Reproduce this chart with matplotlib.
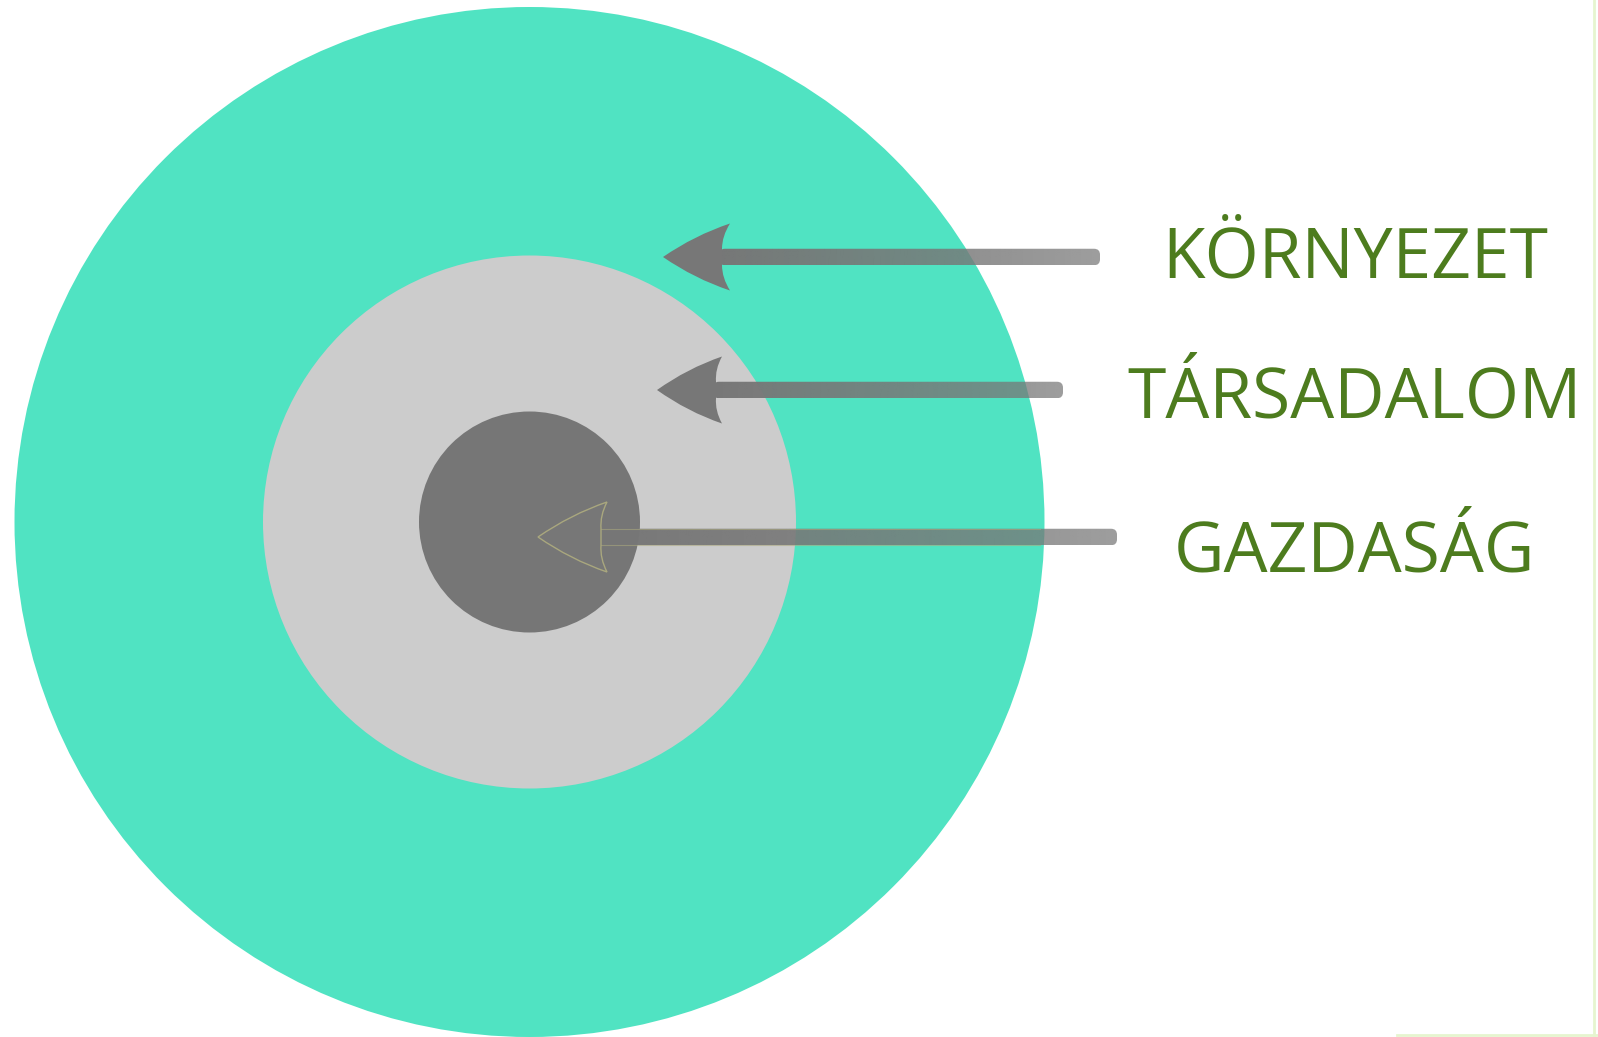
import numpy as np
import matplotlib
matplotlib.use("Agg")
import matplotlib.pyplot as plt
from matplotlib.patches import Circle, PathPatch, FancyBboxPatch
from matplotlib.path import Path

# ---- data ----
labels = ["KÖRNYEZET", "TÁRSADALOM", "GAZDASÁG"]
radii = [515, 266.5, 110.5]
ring_colors = ["#50E3C2", "#CCCCCC", "#767676"]

W, H = 1598, 1037
fig = plt.figure(figsize=(W / 100, H / 100), dpi=100)
ax = fig.add_axes([0, 0, 1, 1])
ax.set_xlim(0, W)
ax.set_ylim(H, 0)
ax.set_aspect("equal")
ax.axis("off")

cx, cy = 529.5, 522
for r, c in zip(radii, ring_colors):
    ax.add_patch(Circle((cx, cy), r, facecolor=c, edgecolor="none", zorder=1))

# arrows: (tip_x, y, barb_x, notch_x, half_height, end_x)
arrows = [
    (663, 257, 730, 722, 33.5, 1100),
    (657, 390, 722, 716, 33.5, 1063),
    (538, 537, 607, 601, 35, 1117),
]
sw = 16.5
gray = np.array([0x77, 0x77, 0x77]) / 255.0


def head_path(tx, y, bx, nx, hh):
    mx_t = (tx + bx) / 2
    ny = sw / 2
    mbx = (bx + nx) / 2
    verts = [
        (tx, y),
        (mx_t - 2, y - hh / 2 - 5), (bx, y - hh),
        (mbx - 4, y - (hh + ny) / 2), (nx, y - ny),
        (nx, y + ny),
        (mbx - 4, y + (hh + ny) / 2), (bx, y + hh),
        (mx_t - 2, y + hh / 2 + 5), (tx, y),
        (tx, y),
    ]
    codes = [Path.MOVETO,
             Path.CURVE3, Path.CURVE3,
             Path.CURVE3, Path.CURVE3,
             Path.LINETO,
             Path.CURVE3, Path.CURVE3,
             Path.CURVE3, Path.CURVE3,
             Path.CLOSEPOLY]
    return Path(verts, codes)


for i, (tx, y, bx, nx, hh, ex) in enumerate(arrows):
    x0 = nx - 3
    n = 256
    grad = np.zeros((1, n, 4))
    grad[..., :3] = gray
    grad[..., 3] = np.linspace(1.0, 0.72, n)
    im = ax.imshow(grad, extent=(x0, ex, y + sw / 2, y - sw / 2),
                   aspect="auto", zorder=3, interpolation="bilinear")
    clip = FancyBboxPatch((x0, y - sw / 2), ex - x0, sw,
                          boxstyle="round,pad=0,rounding_size=6",
                          transform=ax.transData, facecolor="none", edgecolor="none")
    ax.add_patch(clip)
    im.set_clip_path(clip)
    if i < 2:
        ax.add_patch(PathPatch(head_path(tx, y, bx, nx, hh), facecolor="#777777",
                               edgecolor="none", zorder=4))
    else:
        ax.add_patch(PathPatch(head_path(tx, y, bx, nx, hh), facecolor="#777777",
                               edgecolor="#A9A77E", linewidth=1.0, zorder=4))
        for yy in (y - sw / 2, y + sw / 2):
            ax.plot([nx, 1040], [yy, yy], color="#A9A77E", lw=0.8, zorder=5, alpha=0.6)

# labels
text_x = 1355
baselines = [277, 418, 571]
for lab, yb in zip(labels, baselines):
    ax.text(text_x, yb, lab, ha="center", va="baseline", fontsize=50,
            family=["Open Sans", "DejaVu Sans"], color="#4D7C1E", zorder=6)

# faint frame on right/bottom
ax.plot([1594, 1594], [0, H], color="#E6F5CF", lw=2, zorder=7)
ax.plot([1397, W], [1035, 1035], color="#E6F5CF", lw=2, zorder=7)

fig.savefig("out.png", dpi=100, facecolor="white")
